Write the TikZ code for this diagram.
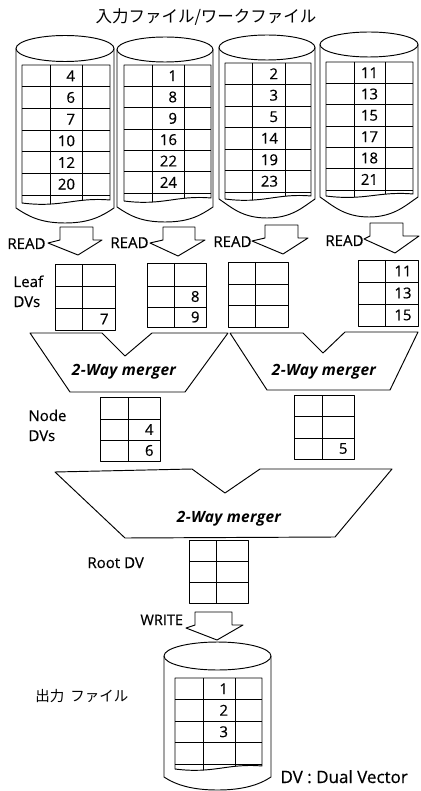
\documentclass[tikz,border=0pt]{standalone}
\usepackage{fontspec}
\setmainfont{Open Sans}
\newfontfamily\lblfont{Open Sans}[FakeBold=0.5]
\newfontfamily\jp{Noto Sans CJK JP}
\def\nrows{6}
% cylinder: L, R, ellipse centre y, y radius, side bottom y, bottom depth
\newcommand\cyl[6]{%
  \pgfmathsetmacro\cylcx{(#1+#2)/2}%
  \pgfmathsetmacro\cylrx{(#2-#1)/2}%
  \draw (\cylcx,#3) ellipse [x radius=\cylrx pt, y radius=#4 pt];
  \draw (#1,#3) -- (#1,#5) .. controls ({#1+12},{#5+8}) and ({\cylcx-25},{#5+#6}) .. (\cylcx,{#5+#6})
        .. controls ({\cylcx+25},{#5+#6}) and ({#2-12},{#5+8}) .. (#2,#5) -- (#2,#3);
}
% file table: L, c1, c2, R, top, bottom of last full row, wavy left offset, wavy right offset, values
\newcommand\ftable[9]{%
  \pgfmathsetmacro\tabrh{(#6-#5)/\nrows}%
  \pgfmathsetmacro\tabw{#4-#1}%
  \begin{scope}
    \clip (#1,#5) -- (#4,#5) -- (#4,{#6+#8}) .. controls ({#1+0.6*\tabw},{#6+#8-3}) and ({#1+0.45*\tabw},{#6+#7+5}) .. (#1,{#6+#7}) -- cycle;
    \draw (#2,#5) -- (#2,{#6+20}) (#3,#5) -- (#3,{#6+20});
  \end{scope}
  \draw (#1,#5) -- (#4,#5) -- (#4,{#6+#8}) .. controls ({#1+0.6*\tabw},{#6+#8-3}) and ({#1+0.45*\tabw},{#6+#7+5}) .. (#1,{#6+#7}) -- cycle;
  \foreach \i in {1,...,\nrows} \draw (#1,{#5+\i*\tabrh}) -- (#4,{#5+\i*\tabrh});
  \foreach \v [count=\i] in {#9} \node[num] (t#1-\i) at ({#3-6.5},{#5+(\i-0.5)*\tabrh}) {\v};
}
% dual vector grid: x1, xm, x2, y0, y1, y2, y3
\newcommand\dvg[7]{%
  \draw (#1,#4) rectangle (#3,#7);
  \draw (#2,#4) -- (#2,#7) (#1,#5) -- (#3,#5) (#1,#6) -- (#3,#6);
}
% block arrow: shaft x1, shaft x2, top, shoulder, head x1, head x2, tip x, tip y
\newcommand\barrow[8]{%
  \draw (#1,#3) -- (#2,#3) -- (#2,#4) -- (#6,#4) -- (#7,#8) -- (#5,{#4+3}) -- (#1,#4) -- cycle;
}
\begin{document}
\begin{tikzpicture}[x=1pt,y=-1pt,line width=0.95pt,line join=round,
  num/.style={font=\lblfont\fontsize{15}{16}\selectfont,inner sep=0pt,anchor=east},
  lbl/.style={font=\lblfont\fontsize{15}{17}\selectfont,inner sep=0pt,anchor=base west},
  mrg/.style={font=\fontsize{15.5}{17}\selectfont\bfseries\itshape\addfontfeature{LetterSpace=2},inner sep=0pt,anchor=base}]
\useasboundingbox (0,0) rectangle (420,791);

\node[font=\jp\fontsize{16.5}{18}\selectfont,inner sep=0pt] (title) at (206,17) {入力ファイル/ワークファイル};

% input / work files
\cyl{16}{114}{48.5}{13}{208}{15}
\cyl{117}{213}{49.5}{12.5}{207}{15}
\cyl{219}{315}{47.5}{12.5}{199}{19}
\cyl{320}{418}{44.5}{12.5}{197}{20}
\ftable{22}{50}{82}{110}{65}{195}{8}{5}{4,6,7,10,12,20}
\ftable{124}{152}{184}{211}{65}{193}{8}{5}{1,8,9,16,22,24}
\ftable{225}{252}{285}{311}{63}{192}{7}{4}{2,3,5,14,19,23}
\ftable{326}{354}{385}{413}{62}{190}{6}{4}{11,13,15,17,18,21}

% READ arrows
\node[lbl] (r1) at (7,249) {READ};
\node[lbl] (r2) at (110,248) {READ};
\node[lbl] (r3) at (213,247) {READ};
\node[lbl] (r4) at (325,246) {READ};
\barrow{60}{93}{227}{240}{48}{102}{78}{255}
\barrow{163}{195}{227}{240}{150}{205}{178}{256}
\barrow{265}{298}{225}{238}{252}{308}{283}{254}
\barrow{370}{403}{223}{236}{364}{419}{395}{253}

% leaf DVs
\node[lbl] (leaf1) at (13,287) {Leaf};
\node[lbl] (leaf2) at (13,307) {DVs};
\dvg{55}{82}{115}{264}{286}{308}{330}
\dvg{147}{174}{206}{263}{286}{307}{327}
\dvg{228}{255}{288}{262}{284}{305}{327}
\dvg{358}{385}{418}{260}{282}{304}{326}
\node[num] (l7) at (109,319) {7};
\node[num] (l8) at (200,296.5) {8};
\node[num] (l9) at (200,317) {9};
\node[num] (l11) at (412,271) {11};
\node[num] (l13) at (412,293) {13};
\node[num] (l15) at (412,315) {15};

% first level mergers
\draw (30,333) -- (102,333) -- (125,356) -- (152,333) -- (228,333) -- (185,392) -- (70,392) -- cycle;
\node[mrg] (m1) at (124,375) {2-Way merger};
\draw (230,333) -- (303,333) -- (323,353) -- (345,332) -- (418,332) -- (390,390) -- (267,390) -- cycle;
\node[mrg] (m2) at (324,375) {2-Way merger};

% node DVs
\node[lbl] (nd1) at (28,421) {Node};
\node[lbl] (nd2) at (28,441) {DVs};
\dvg{100}{128}{160}{397}{419}{440}{461}
\dvg{294}{322}{354}{395}{416}{438}{459}
\node[num] (n4) at (154,429.5) {4};
\node[num] (n6) at (154,450.5) {6};
\node[num] (n5) at (348,448.5) {5};

% root merger
\draw (55,472) -- (192,469) -- (225,493) -- (260,469) -- (392,469) -- (335,537) -- (125,538) -- cycle;
\node[mrg] (m3) at (229,522) {2-Way merger};

% root DV
\node[lbl] (root) at (87,568) {Root\hspace{4pt}DV};
\dvg{189}{216}{248}{540}{561}{582}{603}

% write
\node[lbl,font=\lblfont\fontsize{14.5}{16}\selectfont] (wr) at (140,625) {WRITE};
\barrow{195}{232}{612}{625}{186}{243}{217}{640}

% output file
\cyl{164}{271}{656}{14}{777}{13}
\def\nrows{4}
\ftable{175}{203}{235}{262}{678}{764}{5}{2}{1,2,3}
\node[font=\jp\fontsize{14.5}{16}\selectfont,inner sep=0pt,anchor=west] (out) at (35,696) {出力\hspace{6pt}ファイル};

\node[font=\lblfont\fontsize{17}{19}\selectfont,inner sep=0pt,anchor=base west] (dv) at (280,783) {DV : Dual Vector};
\end{tikzpicture}
\end{document}
